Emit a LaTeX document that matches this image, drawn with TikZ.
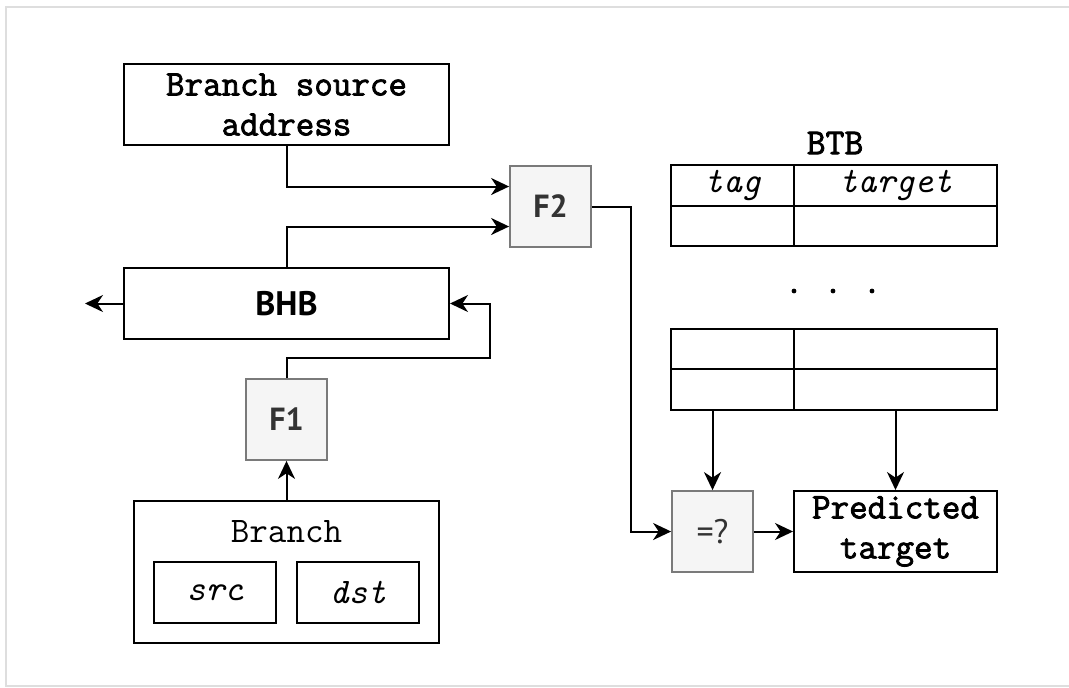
\documentclass[tikz,border=0pt]{standalone}
\usepackage{fontspec}
\newfontfamily\sansf{PT Sans}
\newfontfamily\monob{Latin Modern Mono}[FakeBold=2.2]
\usetikzlibrary{arrows.meta,calc}
\definecolor{fboxfill}{HTML}{F5F5F5}
\definecolor{fboxline}{HTML}{7A7A7A}
\definecolor{ftext}{HTML}{333333}
\tikzset{
  px/.style={x=0.5pt,y=-0.5pt},
  box/.style={draw=black,line width=1pt,inner sep=0pt,align=center,
    font=\monob\fontsize{18}{20}\selectfont},
  fbox/.style={draw=fboxline,fill=fboxfill,line width=0.9pt,inner sep=0pt,
    minimum width=40.5pt,minimum height=40.5pt,text=ftext},
  cell/.style={draw=black,line width=1pt,inner sep=0pt,
    font=\ttfamily\itshape\fontsize{18}{20}\selectfont},
  conn/.style={line width=1pt,-{Stealth[length=9pt,width=8.5pt,inset=2.8pt]}},
}
\begin{document}
\begin{tikzpicture}[px]
\useasboundingbox (0,0) rectangle (1069,687);
% frame
\draw[black!13,line width=1.2pt] (1069,7) -- (6,7) -- (6,686) -- (1069,686);
% BTB title first
\node[inner sep=0pt,font=\monob\fontsize{18.3}{20}\selectfont] (btb) at (835,143) {BTB};
% left side
\node[box,minimum width=162.5pt,minimum height=40.5pt] (bsa) at (286.5,104.5) {Branch source\\address};
\node[fbox,font=\sansf\bfseries\fontsize{16}{18}\selectfont] (f2) at (550.5,206.5) {F2};
\node[box,minimum width=162.5pt,minimum height=35.5pt,font=\sansf\bfseries\fontsize{17}{18}\selectfont] (bhb) at (286.5,303.5) {BHB};
\node[fbox,font=\sansf\bfseries\fontsize{16}{18}\selectfont] (f1) at (286.5,419.5) {F1};
\node[draw=black,line width=1pt,minimum width=152.5pt,minimum height=71pt,inner sep=0pt] (branch) at (286.5,572) {};
\node[font=\ttfamily\fontsize{18}{20}\selectfont] (brlabel) at (286.5,532) {Branch};
\node[cell,minimum width=61pt,minimum height=30.5pt] (src) at (215,592.5) {src};
\node[cell,minimum width=61pt,minimum height=30.5pt] (dst) at (358,592.5) {dst};
% BTB table
\node[cell,minimum width=61.5pt,minimum height=20.5pt] (t1a) at (732.5,185.5) {tag};
\node[cell,minimum width=101.5pt,minimum height=20.5pt] (t1b) at (895.5,185.5) {target};
\node[cell,minimum width=61.5pt,minimum height=20pt] (t1c) at (732.5,226) {};
\node[cell,minimum width=101.5pt,minimum height=20pt] (t1d) at (895.5,226) {};
\fill (794,291) circle (1.2pt) (833,291) circle (1.2pt) (872,291) circle (1.2pt);
\node[cell,minimum width=61.5pt,minimum height=20pt] (t2a) at (732.5,349) {};
\node[cell,minimum width=101.5pt,minimum height=20pt] (t2b) at (895.5,349) {};
\node[cell,minimum width=61.5pt,minimum height=20.5pt] (t2c) at (732.5,389.5) {};
\node[cell,minimum width=101.5pt,minimum height=20.5pt] (t2d) at (895.5,389.5) {};
\node[fbox,font=\sansf\fontsize{17}{18}\selectfont] (eq) at (712.5,531.5) {=?};
\node[box,minimum width=101.5pt,minimum height=40.5pt] (pred) at (895.5,531.5) {Predicted\\target};
% connectors
\coordinate (out) at (85,303.5);
\draw[conn] (bsa.south) |- ([yshift=10pt]f2.west);
\draw[conn] (bhb.north) |- ([yshift=-10pt]f2.west);
\draw[conn] (bhb.west) -- (out);
\draw[conn] (f1.north) -- ++(0,-20) -| ($(bhb.east)+(40,0)$) -- (bhb.east);
\draw[conn] (branch.north) -- (f1.south);
\draw[conn] (f2.east) -- ++(39,0) |- (eq.west);
\draw[conn] (t2c.south -| eq.north) -- (eq.north);
\draw[conn] (t2d.south -| pred.north) -- (pred.north);
\draw[conn] (eq.east) -- (pred.west);
\end{tikzpicture}
\end{document}
